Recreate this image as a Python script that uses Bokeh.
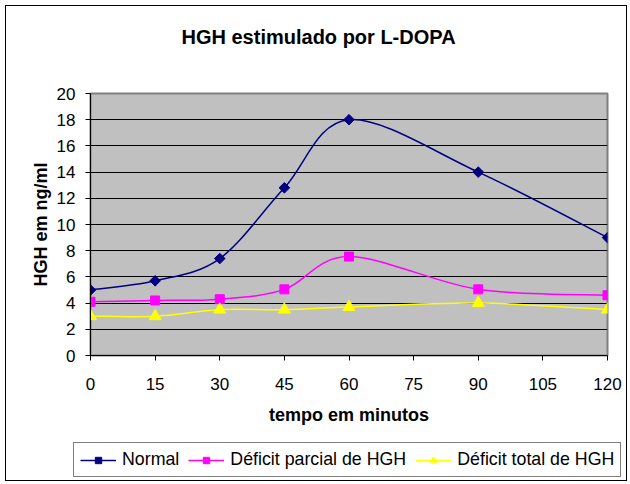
import math
from bokeh.plotting import figure
from bokeh.layouts import column, row
from bokeh.models import Range1d, FixedTicker, Legend, LegendItem, Spacer
from bokeh.embed import file_html
from bokeh.resources import INLINE

# ---- data ----
minutes = [0, 15, 30, 45, 60, 90, 120]
normal = [5.0, 5.7, 7.4, 12.8, 18.0, 14.0, 9.0]
parcial = [4.1, 4.2, 4.3, 5.05, 7.55, 5.05, 4.6]
total = [3.0, 3.0, 3.5, 3.5, 3.7, 4.0, 3.5]

x_ticks = [0, 15, 30, 45, 60, 75, 90, 105, 120]
y_ticks = [0, 2, 4, 6, 8, 10, 12, 14, 16, 18, 20]

title_text = "HGH estimulado por L-DOPA"
x_title = "tempo em minutos"
y_title = "HGH em ng/ml"
names = ["Normal", "Déficit parcial de HGH", "Déficit total de HGH"]
colors = ["#000080", "#FF00FF", "#FFFF00"]
FONT = "Liberation Sans"
W = 620

specs = [("square", 7.5, math.pi / 4), ("square", 9, 0.0), ("triangle", 12, 0.0)]


def smooth_segments(xs, ys):
    """Excel-like smoothing: Catmull-Rom spline expressed as cubic Bezier segments."""
    n = len(xs)
    seg = dict(x0=[], y0=[], x1=[], y1=[], cx0=[], cy0=[], cx1=[], cy1=[])
    for i in range(n - 1):
        xp, yp = (xs[i - 1], ys[i - 1]) if i > 0 else (xs[i], ys[i])
        xn, yn = (xs[i + 2], ys[i + 2]) if i + 2 < n else (xs[i + 1], ys[i + 1])
        seg["x0"].append(xs[i]); seg["y0"].append(ys[i])
        seg["x1"].append(xs[i + 1]); seg["y1"].append(ys[i + 1])
        seg["cx0"].append(xs[i] + (xs[i + 1] - xp) / 6.0)
        seg["cy0"].append(ys[i] + (ys[i + 1] - yp) / 6.0)
        seg["cx1"].append(xs[i + 1] - (xn - xs[i]) / 6.0)
        seg["cy1"].append(ys[i + 1] - (yn - ys[i]) / 6.0)
    return seg


def blank_figure(height, **kw):
    f = figure(width=W, height=height, output_backend="svg", toolbar_location=None,
               x_axis_type=None, y_axis_type=None, min_border=0, **kw)
    f.xgrid.visible = False
    f.ygrid.visible = False
    f.outline_line_color = None
    f.background_fill_color = "white"
    f.border_fill_color = "white"
    return f


# ---- title strip ----
p_top = blank_figure(66, x_range=Range1d(0, 1), y_range=Range1d(0, 1))
p_top.title.text = title_text
p_top.title.text_font = FONT
p_top.title.text_font_size = "20px"
p_top.title.text_font_style = "bold"
p_top.title.text_color = "black"
p_top.title.align = "left"
p_top.title.offset = 91
p_top.title.vertical_align = "top"
p_top.title.standoff = 38

# ---- main chart ----
p = figure(width=W, height=370,
           x_range=Range1d(0, 120), y_range=Range1d(0, 20),
           output_backend="svg", toolbar_location=None,
           min_border_left=84, min_border_right=19,
           min_border_top=21, min_border_bottom=87)
p.background_fill_color = "#C0C0C0"
p.border_fill_color = "white"
p.outline_line_color = "#808080"
p.outline_line_width = 2

p.xgrid.visible = False
p.ygrid.grid_line_color = "black"
p.ygrid.grid_line_width = 1
p.ygrid.ticker = FixedTicker(ticks=y_ticks)

p.xaxis.ticker = FixedTicker(ticks=x_ticks)
p.yaxis.ticker = FixedTicker(ticks=y_ticks)
for ax in (p.xaxis[0], p.yaxis[0]):
    ax.axis_line_color = "black"
    ax.axis_line_width = 1
    ax.major_tick_line_color = "black"
    ax.major_tick_out = 5
    ax.major_tick_in = 0
    ax.minor_tick_out = 0
    ax.minor_tick_in = 0
    ax.major_label_text_font = FONT
    ax.major_label_text_font_size = "17px"
    ax.major_label_text_color = "black"
    ax.axis_label_text_font = FONT
    ax.axis_label_text_font_size = "18px"
    ax.axis_label_text_font_style = "bold"
    ax.axis_label_text_color = "black"

p.xaxis.axis_label = x_title
p.yaxis.axis_label = y_title
p.xaxis.major_label_standoff = 17
p.xaxis.axis_label_standoff = 12
p.yaxis.major_label_standoff = 10
p.yaxis.axis_label_standoff = 3
p.yaxis.major_label_orientation = "horizontal"

for ys, col, (mk, size, ang) in zip([normal, parcial, total], colors, specs):
    seg = smooth_segments(minutes, ys)
    p.bezier(x0=seg["x0"], y0=seg["y0"], x1=seg["x1"], y1=seg["y1"],
             cx0=seg["cx0"], cy0=seg["cy0"], cx1=seg["cx1"], cy1=seg["cy1"],
             line_color=col, line_width=1.5)
    p.scatter(minutes, ys, marker=mk, size=size, angle=ang,
              fill_color=col, line_color=col, line_width=1)

# ---- legend strip (proxy glyphs kept outside its visible range) ----
p_leg = blank_figure(38, x_range=Range1d(1000, 1001), y_range=Range1d(1000, 1001))
items = []
for ys, name, col, (mk, size, ang) in zip([normal, parcial, total], names, colors, specs):
    r_line = p_leg.line(minutes, ys, line_color=col, line_width=1.5)
    r_pts = p_leg.scatter(minutes, ys, marker=mk, size=size, angle=ang,
                          fill_color=col, line_color=col, line_width=1)
    items.append(LegendItem(label=name, renderers=[r_line, r_pts]))

legend = Legend(items=items, orientation="horizontal", location=(67, 3),
                border_line_color="black", border_line_width=1,
                background_fill_color="white", background_fill_alpha=1,
                label_text_font=FONT, label_text_font_size="17.8px",
                label_text_color="black",
                glyph_width=36, glyph_height=16, label_standoff=6,
                spacing=9, padding=6, margin=0, label_height=17)
p_leg.add_layout(legend)

framed = column(column(p_top, p, spacing=0), column(p_leg, spacing=0),
                spacing=0, styles={"border": "1px solid black"})
root = row(Spacer(width=5), column(Spacer(height=5), framed, spacing=0), spacing=0)

open("out.html", "w").write(file_html(root, INLINE))
